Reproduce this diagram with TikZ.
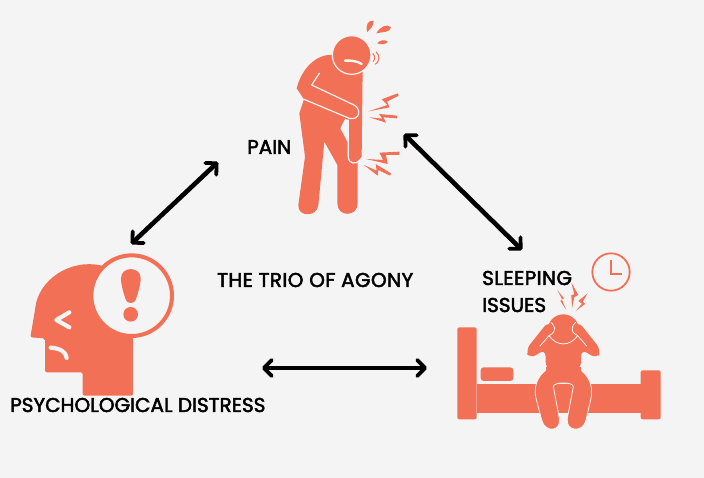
\documentclass[tikz,border=0pt]{standalone}
\usepackage{fontspec}
\newfontfamily\lblfont[FakeBold=2.4]{Poppins}
\usetikzlibrary{arrows.meta}
\definecolor{salmon}{HTML}{F27056}
\definecolor{paper}{HTML}{F4F4F4}

\begin{document}
\begin{tikzpicture}[x=1pt,y=-1pt]
			\tikzstyle{es} = [{Straight Barb[round,length=8pt,width=16pt,line width=3.8pt]}-{Straight Barb[round,length=8pt,width=16pt,line width=3.8pt]},line width=4.6pt,black]
			\tikzstyle{lbl} = [anchor=west,inner sep=0pt,font=\lblfont\fontsize{20}{24}\selectfont,text=black]
			\tikzstyle{lblw} = [lbl,font=\lblfont\fontsize{20}{24}\selectfont\addfontfeature{LetterSpace=2}]
			\tikzstyle{sal} = [fill=salmon,draw=none]
			\tikzstyle{cut} = [draw=paper,line width=4.2pt,line cap=round,line join=round]
			\tikzstyle{thin} = [draw=paper,line width=.8pt,line cap=round,line join=round]
			\fill [paper] (0,0) rectangle (704,478);
			% pain figure
			\begin{scope}[shift={(280,10)},scale=1/3]
				\fill [sal] (160,135) .. controls (110,130) and (65,175) .. (50,235) -- (72,268) -- (58,310) -- (75,440) -- (55,585) .. controls (52,622) and (112,622) .. (115,585) -- (133,395) -- (172,465) -- (172,580) .. controls (172,622) and (233,622) .. (233,580) -- (233,455) -- (245,440) -- (248,170) -- cycle;
				\fill [paper] (195,327) -- (181,355) -- (204,398) -- (205,330) -- cycle;
				\draw [thin,line width=1.2pt] (118,190) -- (95,225) -- (222,285) .. controls (245,297) and (240,332) .. (208,325) -- (72,268);
				\draw [thin,line width=1.2pt] (205,330) -- (205,440) .. controls (205,462) and (228,465) .. (240,450);
				\filldraw [fill=salmon,draw=paper,line width=1.2pt] (215,135) circle (58);
				\draw [cut,line width=2.4pt] (195,152) .. controls (215,150) and (235,155) .. (245,162);
				\draw [salmon,line width=1pt] (278,130) .. controls (286,138) and (286,148) .. (279,155);
				\draw [salmon,line width=1pt] (288,125) .. controls (300,138) and (300,152) .. (286,163);
				\fill [sal] (262,66) .. controls (255,45) and (265,30) .. (281,32) .. controls (282,48) and (272,55) .. (262,66) -- cycle;
				\fill [sal] (289,70) .. controls (300,50) and (320,40) .. (333,52) .. controls (330,68) and (310,65) .. (289,70) -- cycle;
				\fill [sal] (291,100) .. controls (300,90) and (315,87) .. (323,95) .. controls (318,104) and (305,104) .. (291,100) -- cycle;
				\fill [sal] (353,250) -- (356,257) -- (321,275) -- (329,292) -- (265,304) -- (322,285) -- (305,268) -- cycle;
				\fill [sal] (268,322) -- (307,326) -- (297,312) -- (352,317) -- (351,325) -- (310,322) -- (318,338) -- cycle;
				\fill [sal] (358,425) -- (358,435) -- (318,435) -- (323,462) -- (258,447) -- (309,450) -- (298,428) -- cycle;
				\fill [sal] (252,465) -- (290,482) -- (287,462) -- (333,490) -- (330,497) -- (295,480) -- (293,497) -- cycle;
			\end{scope}
			% distress head
			\begin{scope}[shift={(10,240)},scale=1/3]
				\fill [sal,rounded corners=2pt] (280,78) .. controls (180,55) and (85,120) .. (75,210) -- (61,292) -- (105,295) -- (105,397) -- (218,397) -- (218,467) -- (369,467) -- (369,200) -- cycle;
				\filldraw [fill=paper,draw=salmon,line width=4pt] (365,167) circle (121);
				\fill [sal] (333,115) .. controls (333,78) and (392,78) .. (392,115) .. controls (392,135) and (382,165) .. (377,180) .. controls (372,192) and (352,192) .. (348,180) .. controls (342,165) and (333,135) .. (333,115) -- cycle;
				\fill [sal] (362,223) circle (22);
				\draw [cut] (178,217) -- (139,240) -- (178,262);
				\draw [cut] (122,323) .. controls (150,325) and (168,335) .. (170,354);
			\end{scope}
			% bed and sleeper
			\begin{scope}[shift={(450,245)},scale=1/3]
				\fill [sal,rounded corners=2pt] (22,247) rectangle (80,523);
				\fill [sal,rounded corners=2pt] (572,376) rectangle (632,523);
				\fill [sal] (80,418) rectangle (572,505);
				\fill [sal,rounded corners=3pt] (92,367) rectangle (190,408);
				\fill [sal] (340,255) circle (47);
				\fill [sal,rounded corners=7pt] (296,228) -- (226,316) -- (240,342) -- (286,312) -- (288,375) -- (392,375) -- (394,312) -- (440,342) -- (454,316) -- (384,228) -- (365,250) -- (315,250) -- cycle;
				\draw [thin] (297,272) .. controls (320,305) and (360,305) .. (383,272);
				\draw [thin] (303,232) .. controls (312,240) and (325,258) .. (297,272) -- (270,303);
				\draw [thin] (377,232) .. controls (368,240) and (355,258) .. (383,272) -- (410,303);
				\filldraw [fill=salmon,draw=paper,line width=.8pt] (288,375) .. controls (262,395) and (250,425) .. (258,460) -- (275,525) .. controls (285,565) and (335,560) .. (328,520) -- (310,425) .. controls (310,410) and (370,410) .. (370,425) -- (352,520) .. controls (345,560) and (400,565) .. (408,525) -- (423,460) .. controls (430,425) and (418,395) .. (392,375);
				\fill [sal] (288,365) rectangle (392,378);
				\draw [salmon,line width=1.8pt] (483,81) circle (56);
				\draw [salmon,line width=1.4pt] (483,45) -- (483,87) -- (515,87);
				\fill [sal] (322,135) -- (342,160) -- (335,163) -- (349,195) -- (331,168) -- (337,164) -- cycle;
				\fill [sal] (364,113) -- (385,150) -- (373,156) -- (366,190) -- (364,150) -- (373,148) -- cycle;
				\fill [sal] (413,145) -- (398,170) -- (405,177) -- (377,198) -- (396,176) -- (385,168) -- cycle;
			\end{scope}
			% labels
			\node [lbl] (pain) at (247,147) {PAIN};
			\node [lblw] (trio) at (217,280) {THE TRIO OF AGONY};
			\node [lblw] (sleeping) at (482,278) {SLEEPING};
			\node [lbl] (issues) at (482,305) {ISSUES};
			\node [lbl] (distress) at (10,405) {PSYCHOLOGICAL DISTRESS};
			% arrows
			\coordinate (a1) at (218,162);
			\coordinate (a2) at (131,244);
			\coordinate (b1) at (404,134);
			\coordinate (b2) at (522,250);
			\coordinate (c1) at (262,368);
			\coordinate (c2) at (427,368);
			\draw [es] (a1) -- (a2);
			\draw [es] (b1) -- (b2);
			\draw [es] (c1) -- (c2);
		\end{tikzpicture}
\end{document}
